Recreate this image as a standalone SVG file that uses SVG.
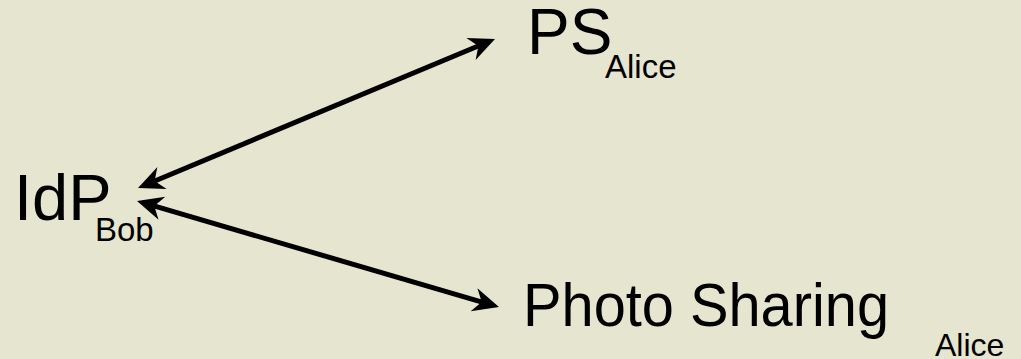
<svg xmlns="http://www.w3.org/2000/svg" xmlns:xlink="http://www.w3.org/1999/xlink" width="1021" height="359" viewBox="0 0 1021 359">
<style>
.lbl{font-family:"Liberation Sans",Arial,sans-serif;fill:#000}
.big{font-size:63px}
.sub{font-size:32px}
.conn{stroke:#000;stroke-width:5;fill:none}
.head{fill:#000}
</style>
<defs>
<path id="ah" class="head" d="M0,0 L-26,-12 L-18,0 L-26,12 Z"/>
</defs>
<rect width="1021" height="359" fill="#E6E6D0"/>
<g id="connectors">
<path class="conn" d="M151.8,182.2 L481.2,44.8"/>
<use href="#ah" xlink:href="#ah" transform="translate(495,39) rotate(-22.65)"/>
<use href="#ah" xlink:href="#ah" transform="translate(138,188) rotate(157.35)"/>
<path class="conn" d="M151.4,205.2 L484.6,302.8"/>
<use href="#ah" xlink:href="#ah" transform="translate(499,307) rotate(16.32)"/>
<use href="#ah" xlink:href="#ah" transform="translate(137,201) rotate(196.32)"/>
</g>
<g id="idp">
<text class="lbl big" x="14" y="220" style="font-size:65px">IdP</text>
<text class="lbl sub" x="95" y="241" style="font-size:33px">Bob</text>
</g>
<g id="ps">
<text class="lbl big" x="527" y="54" style="font-size:64px">PS</text>
<text class="lbl sub" x="605" y="78" style="font-size:33px">Alice</text>
</g>
<g id="photo">
<text class="lbl big" x="523" y="326" style="font-size:62px" textLength="366" lengthAdjust="spacingAndGlyphs">Photo Sharing</text>
<text class="lbl sub" x="935" y="356">Alice</text>
</g>
</svg>
